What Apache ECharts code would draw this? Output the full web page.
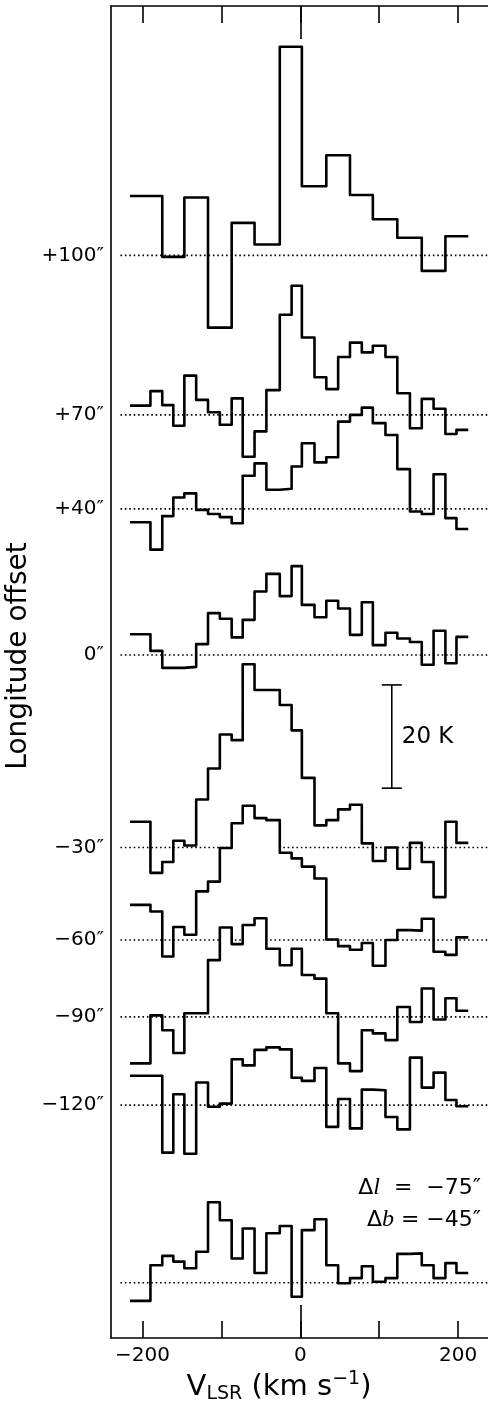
<!DOCTYPE html>
<html>
<head>
<meta charset="utf-8">
<script src="https://cdn.jsdelivr.net/npm/echarts@6/dist/echarts.min.js"></script>
<style>
  html, body { margin: 0; padding: 0; background: #fff; }
  #chart { width: 488px; height: 1404px; }
</style>
</head>
<body>
<div id="chart"></div>
<script>
// channel edges in km/s (shared grid)
const velEdges = [-216, -190, -175, -161, -147, -132, -117, -102, -87, -73, -58, -43, -26, -11,
  2, 18, 33, 48, 63, 78, 92, 108, 123, 139, 154, 169, 184, 198, 213];
// the +100" spectrum is binned two channels at a time
const wideEdges = [-216, -175, -147, -117, -87, -58, -26, 2, 33, 63, 92, 123, 154, 184, 213];

// offsets (label) and where each baseline sits, in K
const offsetLabels = ['+100″', '+70″', '+40″', '0″', '−30″', '−60″', '−90″', '−120″', ''];
const baselinesK = [209.7, 178.8, 160.6, 132.3, 95.0, 77.1, 62.2, 45.1, 10.7];

// antenna temperature per channel (K)
const tP100 = [11.5, -0.3, 11.2, -14.0, 6.3, 2.1, 40.4, 13.4, 19.4, 11.7, 7.0, 3.4, -3.0, 3.7];
const tP70 = [1.8, 4.6, 1.9, -2.1, 7.6, 2.9, 0.5, -1.9, 3.2, -8.1, -3.2, 4.8, 19.4, 25.0,
  15.0, 7.3, 5.0, 11.2, 14.0, 12.1, 13.4, 11.2, 4.2, -2.6, 3.1, 1.2, -3.7, -2.9];
const tP40 = [-2.6, -7.9, -1.4, 2.2, 3.0, -0.2, -1.0, -1.6, -2.8, 6.4, 8.8, 3.7, 3.9, 8.2,
  12.7, 9.0, 10.0, 16.9, 18.2, 19.6, 16.6, 14.3, 7.7, -0.5, -1.0, 6.7, -1.8, -3.9];
const t0 = [4.0, 0.8, -2.5, -2.5, -2.3, 2.1, 8.1, 7.0, 3.4, 6.8, 12.3, 15.7, 11.4, 17.2,
  9.7, 7.3, 10.5, 9.0, 3.9, 10.2, 1.9, 4.3, 3.2, 2.5, -1.9, 4.7, -1.6, 3.5];
const tM30 = [5.0, -4.9, -2.8, 1.3, 0.4, 9.3, 15.3, 21.9, 20.8, 35.5, 30.5, 30.5, 27.6, 22.7,
  13.5, 4.3, 5.3, 7.4, 8.3, 0.8, -2.6, 0.0, -4.1, 0.9, -2.8, -9.6, 5.0, 0.9];
const tM60 = [6.8, 5.5, -3.2, 2.5, 1.0, 9.4, 11.3, 17.8, 22.6, 26.0, 23.6, 23.2, 16.9, 15.8,
  14.2, 11.9, 0.1, -1.2, -1.9, -0.6, -5.0, 0.0, 1.9, 1.8, 4.1, -2.3, -2.9, 0.5];
const tM90 = [-9.0, 0.3, -2.6, -7.0, 0.7, 0.7, 11.0, 17.3, 14.1, 17.8, 19.1, 13.2, 10.0, 13.2,
  8.1, 7.4, 0.7, -9.0, -10.5, -2.6, -3.2, -4.5, 1.9, -1.0, 5.5, -0.5, 3.6, 1.2];
const tM120 = [5.7, 5.7, -9.2, 2.1, -9.4, 4.4, -0.3, 0.3, 8.9, 7.7, 10.7, 11.2, 10.8, 5.3,
  4.7, 7.2, -4.2, 1.2, -4.5, 3.0, 2.9, -2.3, -4.7, 9.2, 3.4, 6.3, 1.0, -0.2];
const tBottom = [-3.5, 3.4, 5.2, 4.1, 2.8, 6.0, 15.6, 12.1, 4.7, 10.5, 1.9, 9.6, 11.0, -2.7,
  10.2, 12.3, 3.4, -0.1, 0.9, 3.2, 0.2, 0.9, 5.6, 5.7, 3.4, 0.9, 3.8, 1.9];

const xTicks = [-200, -100, 0, 100, 200];
const xTickLabels = [-200, 0, 200];

// 20 K scale bar: velocity, bottom and top (K)
const scaleBar = [116, 106.5, 126.5];

const spectra = [tP100, tP70, tP40, t0, tM30, tM60, tM90, tM120, tBottom];

const FONT = 'DejaVu Sans';
// the frame is cut off on the right, so the axis runs to the page edge
const X_MIN = -240, X_MAX = 238;
const BASE_START = -228;

function stepData(edges, temps, base) {
    const pts = temps.map((t, i) => [edges[i], base + t]);
    pts.push([edges[edges.length - 1], base + temps[temps.length - 1]]);
    return pts;
}

const minus = v => (v < 0 ? '−' + Math.abs(v) : String(v));

const series = [];
spectra.forEach((temps, k) => {
    const edges = temps.length === wideEdges.length - 1 ? wideEdges : velEdges;
    // white area under each trace hides the baselines it passes over
    series.push({
        type: 'line',
        step: 'end',
        data: stepData(edges, temps, baselinesK[k]),
        symbol: 'none',
        silent: true,
        z: 10 + 2 * k,
        lineStyle: {color: '#000', width: 2.6, join: 'round'},
        areaStyle: {color: '#fff', opacity: 1, origin: 'start'}
    });
    series.push({
        type: 'line',
        data: [[BASE_START, baselinesK[k]], [X_MAX, baselinesK[k]]],
        symbol: 'none',
        silent: true,
        z: 11 + 2 * k,
        lineStyle: {color: '#000', width: 1.6, type: [1.6, 2.8], cap: 'butt'}
    });
});

series.push({
    type: 'custom',
    z: 100,
    silent: true,
    data: [scaleBar],
    renderItem(params, api) {
        const bot = api.coord([api.value(0), api.value(1)]);
        const top = api.coord([api.value(0), api.value(2)]);
        const st = {stroke: '#000', lineWidth: 1.6};
        return {
            type: 'group',
            children: [
                {type: 'line', shape: {x1: bot[0], y1: bot[1], x2: top[0], y2: top[1]}, style: st},
                {type: 'line', shape: {x1: top[0] - 10, y1: top[1], x2: top[0] + 10, y2: top[1]}, style: st},
                {type: 'line', shape: {x1: bot[0] - 10, y1: bot[1], x2: bot[0] + 10, y2: bot[1]}, style: st},
                {type: 'text', x: top[0] + 10, y: (top[1] + bot[1]) / 2,
                 style: {text: '20 K', fill: '#000', fontSize: 23, fontFamily: FONT,
                         align: 'left', verticalAlign: 'middle'}}
            ]
        };
    }
});

const axisLine = {show: true, onZero: false, lineStyle: {color: '#000', width: 1.6}};
function xAxisDef(position, tickValues, tickLen, withLine) {
    return {
        type: 'value', position, min: X_MIN, max: X_MAX, z: 50,
        axisLine: withLine ? axisLine : {show: false, onZero: false},
        axisTick: {show: true, inside: true, length: tickLen, customValues: tickValues,
                   lineStyle: {color: '#000', width: 1.6}},
        axisLabel: {show: false},
        splitLine: {show: false}
    };
}

const bottomAxis = xAxisDef('bottom', xTicks, 17, true);
bottomAxis.axisLabel = {
    show: true, customValues: xTickLabels, formatter: minus, margin: 8,
    color: '#000', fontSize: 20, fontFamily: FONT
};

const chart = echarts.init(document.getElementById('chart'));
chart.setOption({
    animation: false,
    backgroundColor: '#fff',
    grid: {left: 111, top: 6, right: 0, height: 1332},
    xAxis: [
        bottomAxis,
        xAxisDef('bottom', [0], 33, false),
        xAxisDef('top', xTicks, 17, true),
        xAxisDef('top', [0], 33, false)
    ],
    yAxis: [{
        type: 'value', position: 'left', min: 0, max: 258, z: 50,
        axisLine: axisLine,
        axisTick: {show: false},
        splitLine: {show: false},
        axisLabel: {
            show: true, customValues: baselinesK.slice(0, 8), margin: 7,
            color: '#000', fontSize: 20, fontFamily: FONT,
            formatter: v => {
                const i = baselinesK.findIndex(b => Math.abs(b - v) < 0.01);
                return i >= 0 ? offsetLabels[i] : '';
            }
        }
    }],
    graphic: [
        {type: 'text', x: 19, y: 656, rotation: Math.PI / 2, z: 200,
         style: {text: 'Longitude offset', fill: '#000', fontSize: 28, fontFamily: FONT,
                 align: 'center', verticalAlign: 'middle'}},
        {type: 'text', x: 279, y: 1387, z: 200,
         style: {text: '{v|V}{s|LSR}{v| (km s}{p|−1}{v|)}', align: 'center', verticalAlign: 'middle',
                 rich: {
                     v: {fontSize: 29, fontFamily: FONT, fill: '#000', lineHeight: 34},
                     s: {fontSize: 19, fontFamily: FONT, fill: '#000', verticalAlign: 'bottom', lineHeight: 20},
                     p: {fontSize: 19, fontFamily: FONT, fill: '#000', verticalAlign: 'top', lineHeight: 19}
                 }}},
        {type: 'text', x: 481, y: 1188, z: 200,
         style: {text: '{d|Δ}{i|l}{d|  =  −75″}', align: 'right', verticalAlign: 'middle',
                 rich: {
                     d: {fontSize: 22, fontFamily: FONT, fill: '#000'},
                     i: {fontSize: 24, fontFamily: 'Liberation Serif', fontStyle: 'italic', fill: '#000'}
                 }}},
        {type: 'text', x: 481, y: 1220, z: 200,
         style: {text: '{d|Δ}{i|b}{d| = −45″}', align: 'right', verticalAlign: 'middle',
                 rich: {
                     d: {fontSize: 22, fontFamily: FONT, fill: '#000'},
                     i: {fontSize: 24, fontFamily: 'Liberation Serif', fontStyle: 'italic', fill: '#000'}
                 }}}
    ],
    series: series
});
</script>
</body>
</html>
